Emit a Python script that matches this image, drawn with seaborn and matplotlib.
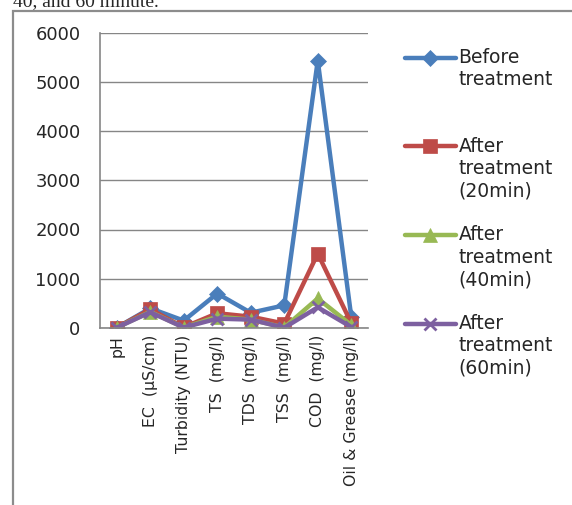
import numpy as np
import pandas as pd
import matplotlib
matplotlib.use('Agg')
import matplotlib.pyplot as plt
import seaborn as sns
from matplotlib.lines import Line2D
from matplotlib.patches import Rectangle
from matplotlib.legend_handler import HandlerLine2D

# data
params = ['pH', 'EC  (\u00b5S/cm)', 'Turbidity (NTU)', 'TS  (mg/l)', 'TDS  (mg/l)',
          'TSS  (mg/l)', 'COD  (mg/l)', 'Oil & Grease (mg/l)']
before = [7, 400, 150, 700, 310, 460, 5430, 230]
after20 = [7, 380, 15, 300, 230, 90, 1510, 100]
after40 = [7, 330, 10, 230, 170, 10, 600, 60]
after60 = [7, 320, 10, 190, 170, 5, 420, 20]
series_names = ['Before\ntreatment', 'After\ntreatment\n(20min)',
                'After\ntreatment\n(40min)', 'After\ntreatment\n(60min)']
colors = ['#4A7EBB', '#BE4B48', '#98B954', '#7D60A0']
yticks = [0, 1000, 2000, 3000, 4000, 5000, 6000]

rows = []
for name, vals in zip(series_names, [before, after20, after40, after60]):
    for i, v in enumerate(vals):
        rows.append({'pos': i, 'value': v, 'series': name})
df = pd.DataFrame(rows)

sns.set_style('white')
plt.rcParams['font.family'] = ['DejaVu Sans']

fig = plt.figure(figsize=(5.72, 5.05), dpi=100)
ax = fig.add_axes([100 / 572, 1 - 328 / 505, 268 / 572, (328 - 32.5) / 505])

markers = dict(zip(series_names, ['D', 's', '^', 'x']))
sizes = dict(zip(series_names, [8.5, 9.5, 9.5, 8]))
for name, col in zip(series_names, colors):
    sub = df[df['series'] == name]
    sns.lineplot(data=sub, x='pos', y='value', color=col, lw=3.2,
                 marker=markers[name], markersize=sizes[name], markeredgecolor=col,
                 markeredgewidth=2 if markers[name] == 'x' else 0.5,
                 ax=ax, label=name, legend=False)

gray = '#868686'
ax.set_xlim(-0.5, 7.5)
ax.set_ylim(0, 6000)
ax.set_yticks(yticks)
ax.set_yticklabels([str(t) for t in yticks], fontsize=13)
ax.set_xticks(range(len(params)))
ax.set_xticklabels(params, rotation=90, fontsize=11.3, va='top', ha='center')
ax.set_xticks(np.arange(-0.5, 8, 1), minor=True)
ax.tick_params(axis='x', which='major', length=0, pad=5)
ax.tick_params(axis='x', which='minor', length=4, color=gray, width=1, direction='out')
ax.tick_params(axis='y', length=4, color=gray, width=1, direction='out', pad=10)
ax.set_xlabel('')
ax.set_ylabel('')
ax.grid(axis='y', color=gray, lw=1)
ax.grid(axis='x', visible=False)
ax.set_axisbelow(True)
for s in ['top', 'right']:
    ax.spines[s].set_visible(False)
for s in ['left', 'bottom']:
    ax.spines[s].set_color(gray)
    ax.spines[s].set_linewidth(1.2)


class UpHandler(HandlerLine2D):
    # put the handle next to the first line of the label
    def __init__(self, shift, **kw):
        super().__init__(**kw)
        self.shift = shift

    def create_artists(self, legend, orig_handle, xdescent, ydescent, width, height, fontsize, trans):
        return super().create_artists(legend, orig_handle, xdescent, ydescent - 2 * self.shift,
                                      width, height, fontsize, trans)


leg_fs = 13.5
line_sp = 1.23
handles = ax.lines[:4]
labels = ['Before\ntreatment\n', series_names[1], series_names[2], series_names[3]]
leg = fig.legend(handles, labels, loc='upper left', bbox_to_anchor=(405 / 572, 1 - 48 / 505),
                 frameon=False, fontsize=leg_fs, handlelength=2.7, handletextpad=0.15,
                 labelspacing=1.32, borderpad=0, borderaxespad=0,
                 handler_map={Line2D: UpHandler(leg_fs * line_sp, numpoints=1)})
for t in leg.get_texts():
    t.set_linespacing(line_sp)

# outer frame and clipped caption from the page
fig.add_artist(Rectangle((13 / 572, -0.2), 1.2, 1.2 - 11 / 505, transform=fig.transFigure,
                         fill=False, edgecolor='#8c8c8c', lw=1.6, clip_on=False))
fig.text(13 / 572, 1 - 6 / 505, '40, and 60 minute.', family='Liberation Serif',
         fontsize=14, va='baseline', ha='left')

fig.savefig('out.png', dpi=100)
